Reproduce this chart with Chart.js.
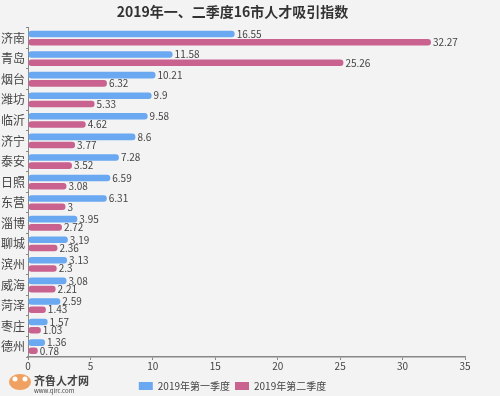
<!DOCTYPE html>
<html>
<head>
<meta charset="utf-8">
<script src="https://cdn.jsdelivr.net/npm/chart.js@4"></script>
<style>
  html, body { margin: 0; padding: 0; background: #f3f3f3; }
  #wrap { width: 500px; height: 396px; position: relative; }
</style>
</head>
<body>
<div id="wrap"><canvas id="chart"></canvas></div>
<script>
// data
const cities = ['济南', '青岛', '烟台', '潍坊', '临沂', '济宁', '泰安', '日照', '东营', '淄博', '聊城', '滨州', '威海', '菏泽', '枣庄', '德州'];
const q1Values = [16.55, 11.58, 10.21, 9.9, 9.58, 8.6, 7.28, 6.59, 6.31, 3.95, 3.19, 3.13, 3.08, 2.59, 1.57, 1.36];
const q2Values = [32.27, 25.26, 6.32, 5.33, 4.62, 3.77, 3.52, 3.08, 3, 2.72, 2.36, 2.3, 2.21, 1.43, 1.03, 0.78];
const seriesNames = ['2019年第一季度', '2019年第二季度'];
const xTicks = [0, 5, 10, 15, 20, 25, 30, 35];

const FONT = '"Noto Sans CJK SC", "Noto Sans", sans-serif';

// value labels at the end of each bar
const valueLabels = {
    id: 'valueLabels',
    afterDatasetsDraw(chart) {
        const ctx = chart.ctx;
        ctx.save();
        ctx.font = '10px ' + FONT;
        ctx.fillStyle = '#444';
        ctx.textBaseline = 'middle';
        chart.data.datasets.forEach((ds, i) => {
            chart.getDatasetMeta(i).data.forEach((bar, j) => {
                ctx.fillText(String(ds.data[j]), bar.x + 2, bar.y);
            });
        });
        ctx.restore();
    }
};

// site mark in the bottom-left corner
const siteMark = {
    id: 'siteMark',
    afterDraw(chart) {
        const ctx = chart.ctx;
        ctx.save();
        ctx.fillStyle = '#f0a060';
        ctx.beginPath();
        ctx.ellipse(20, 382, 11, 8, 0, 0, Math.PI * 2);
        ctx.fill();
        ctx.fillStyle = '#fff';
        ctx.beginPath();
        ctx.arc(15, 379, 2.5, 0, Math.PI * 2);
        ctx.arc(25, 379, 2.5, 0, Math.PI * 2);
        ctx.fill();
        ctx.fillStyle = '#444';
        ctx.font = 'bold 11px ' + FONT;
        ctx.textBaseline = 'alphabetic';
        ctx.fillText('齐鲁人才网', 34, 385);
        ctx.font = '6px ' + FONT;
        ctx.fillText('www.qlrc.com', 34, 393);
        ctx.restore();
    }
};

new Chart(document.getElementById('chart'), {
    type: 'bar',
    data: {
        labels: cities,
        datasets: [
            { label: seriesNames[0], data: q1Values, backgroundColor: '#6aa8f2', borderRadius: 3, borderSkipped: false },
            { label: seriesNames[1], data: q2Values, backgroundColor: '#c9628f', borderRadius: 3, borderSkipped: false }
        ]
    },
    options: {
        indexAxis: 'y',
        responsive: true,
        maintainAspectRatio: false,
        animation: false,
        layout: { padding: { left: 0, right: 35, top: 0, bottom: -5 } },
        datasets: { bar: { categoryPercentage: 0.8, barPercentage: 0.8 } },
        scales: {
            x: {
                min: 0,
                max: 35,
                afterBuildTicks: axis => { axis.ticks = xTicks.map(v => ({ value: v })); },
                grid: { display: true, drawOnChartArea: false, tickLength: 3, color: '#888' },
                border: { color: '#888', width: 1.5 },
                ticks: { color: '#444', font: { size: 10, family: FONT }, padding: 0 },
                afterFit: axis => { axis.height += 4; }
            },
            y: {
                grid: { display: true, drawOnChartArea: false, tickLength: 2, color: '#888' },
                border: { color: '#888', width: 1 },
                ticks: { color: '#444', font: { size: 12, family: FONT }, padding: 1 }
            }
        },
        plugins: {
            title: {
                display: true,
                text: '2019年一、二季度16市人才吸引指数',
                color: '#333',
                font: { size: 14, weight: 'bold', family: FONT },
                padding: { top: 3, bottom: 8 }
            },
            legend: {
                position: 'bottom',
                labels: {
                    color: '#444',
                    font: { size: 10, family: FONT },
                    boxWidth: 14,
                    boxHeight: 8,
                    padding: 5
                }
            },
            tooltip: { enabled: false }
        }
    },
    plugins: [valueLabels, siteMark]
});
</script>
</body>
</html>
